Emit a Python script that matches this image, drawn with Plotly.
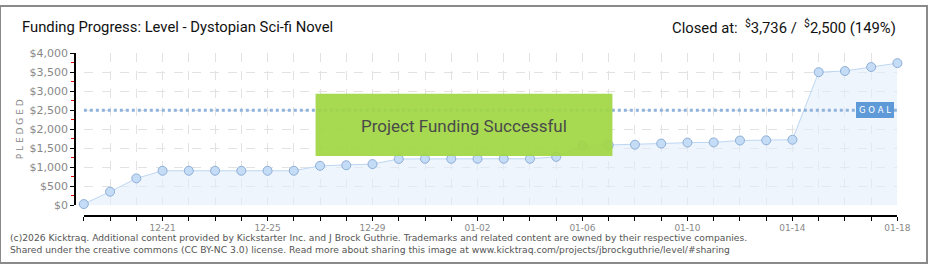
import plotly.graph_objects as go
import pandas as pd

dates = pd.date_range("2025-12-18", "2026-01-18", freq="D").strftime("%Y-%m-%d").tolist()
pledged = [35, 360, 710, 910, 910, 910, 910, 910, 910, 1040, 1055, 1085, 1220, 1225,
           1225, 1225, 1225, 1225, 1275, 1570, 1585, 1595, 1625, 1650, 1655, 1705,
           1710, 1725, 3500, 3530, 3635, 3736]
goal = 2500
y_ticks = [0, 500, 1000, 1500, 2000, 2500, 3000, 3500, 4000]
y_labels = ["$0", "$500", "$1,000", "$1,500", "$2,000", "$2,500", "$3,000", "$3,500", "$4,000"]
x_tick_dates = dates[3::4]
x_labels = [pd.Timestamp(d).strftime("%m-%d") for d in x_tick_dates]

W, H = 940, 270
def px(x): return x / W
def py(y): return (H - y) / H

fig = go.Figure()
fig.add_trace(go.Scatter(
    x=dates, y=pledged, mode="lines+markers",
    line=dict(color="#bcd6f2", width=1),
    fill="tozeroy", fillcolor="rgba(228,239,252,0.6)",
    marker=dict(size=9, color="#c4dcf6", line=dict(color="#8eaed6", width=1)),
    cliponaxis=False, hoverinfo="skip", showlegend=False,
))
fig.add_trace(go.Scatter(
    x=[dates[0], dates[-1]], y=[goal, goal], mode="lines",
    line=dict(color="#8fb3dc", width=3, dash="dot"),
    hoverinfo="skip", showlegend=False,
))

fig.update_layout(
    width=W, height=H, margin=dict(l=0, r=0, t=0, b=0),
    paper_bgcolor="white", plot_bgcolor="white",
    font=dict(family="DejaVu Sans", color="#777"),
    xaxis=dict(
        domain=[px(85), px(910)], range=[dates[0], dates[-1]],
        tickvals=x_tick_dates, ticktext=x_labels, tickangle=0,
        showgrid=True, gridcolor="#e2e2e2", griddash="dash", gridwidth=1,
        ticks="outside", ticklen=4, tickcolor="#000", tickwidth=1,
        minor=dict(tick0=dates[0], dtick=86400000, ticks="outside", ticklen=4,
                   tickcolor="#000", showgrid=True, gridcolor="#e2e2e2", griddash="dash"),
        showline=True, linecolor="#000", linewidth=1.5,
        anchor="free", position=py(220.5),
        tickfont=dict(size=9, color="#888"), zeroline=False,
    ),
    yaxis=dict(
        domain=[py(209.5), py(49.5)], range=[0, 4000],
        tickvals=y_ticks, ticktext=y_labels,
        showgrid=True, gridcolor="#e2e2e2", griddash="dash", gridwidth=1,
        ticks="outside", ticklen=4, tickcolor="#000", tickwidth=1,
        minor=dict(dtick=250, ticks="outside", ticklen=3, tickcolor="#e00000", showgrid=False),
        showline=True, linecolor="#000", linewidth=1.5,
        anchor="free", position=px(76),
        tickfont=dict(size=11, color="#888"), zeroline=False,
        title=dict(text="P L E D G E D", font=dict(size=9, color="#888"), standoff=3),
    ),
    shapes=[
        dict(type="rect", xref="paper", yref="paper", x0=px(320), x1=px(621), y0=py(157.7), y1=py(92.3),
             fillcolor="rgba(160,214,68,0.93)", line=dict(width=0), layer="above"),
        dict(type="rect", xref="paper", yref="paper", x0=0, x1=1, y0=0, y1=1,
             line=dict(color="#8a8a8a", width=2), fillcolor="rgba(0,0,0,0)"),
    ],
    annotations=[
        dict(text="Funding Progress: Level - Dystopian Sci-fi Novel", xref="paper", yref="paper",
             x=px(20), y=py(22), xanchor="left", yanchor="middle", showarrow=False,
             font=dict(family="Roboto, sans-serif", size=14.8, color="#111")),
        dict(text="Closed at:  <sup>$</sup>3,736 /  <sup>$</sup>2,500 (149%)", xref="paper", yref="paper",
             x=px(911), y=py(22), xanchor="right", yanchor="middle", showarrow=False,
             font=dict(family="Roboto, sans-serif", size=14.8, color="#111")),
        dict(text="Project Funding Successful", xref="paper", yref="paper",
             x=px(470), y=py(126), xanchor="center", yanchor="middle", showarrow=False,
             font=dict(family="Roboto, sans-serif", size=17, color="#4a4a4a")),
        dict(text="G O A L", x=dates[-2], y=goal, xref="x", yref="y", xshift=4,
             showarrow=False, bgcolor="#5e9ad8", bordercolor="#5e9ad8", borderpad=2,
             font=dict(family="DejaVu Sans", size=8.5, color="white")),
        dict(text="(c)2026 Kicktraq. Additional content provided by Kickstarter Inc. and J Brock Guthrie. Trademarks and related content are owned by their respective companies.",
             xref="paper", yref="paper", x=px(8), y=py(243.5), xanchor="left", yanchor="middle",
             showarrow=False, font=dict(family="DejaVu Sans", size=9.2, color="#555")),
        dict(text="Shared under the creative commons (CC BY-NC 3.0) license. Read more about sharing this image at www.kicktraq.com/projects/jbrockguthrie/level/#sharing",
             xref="paper", yref="paper", x=px(8), y=py(256), xanchor="left", yanchor="middle",
             showarrow=False, font=dict(family="DejaVu Sans", size=9.2, color="#555")),
    ],
)

fig.write_html("out.html")
